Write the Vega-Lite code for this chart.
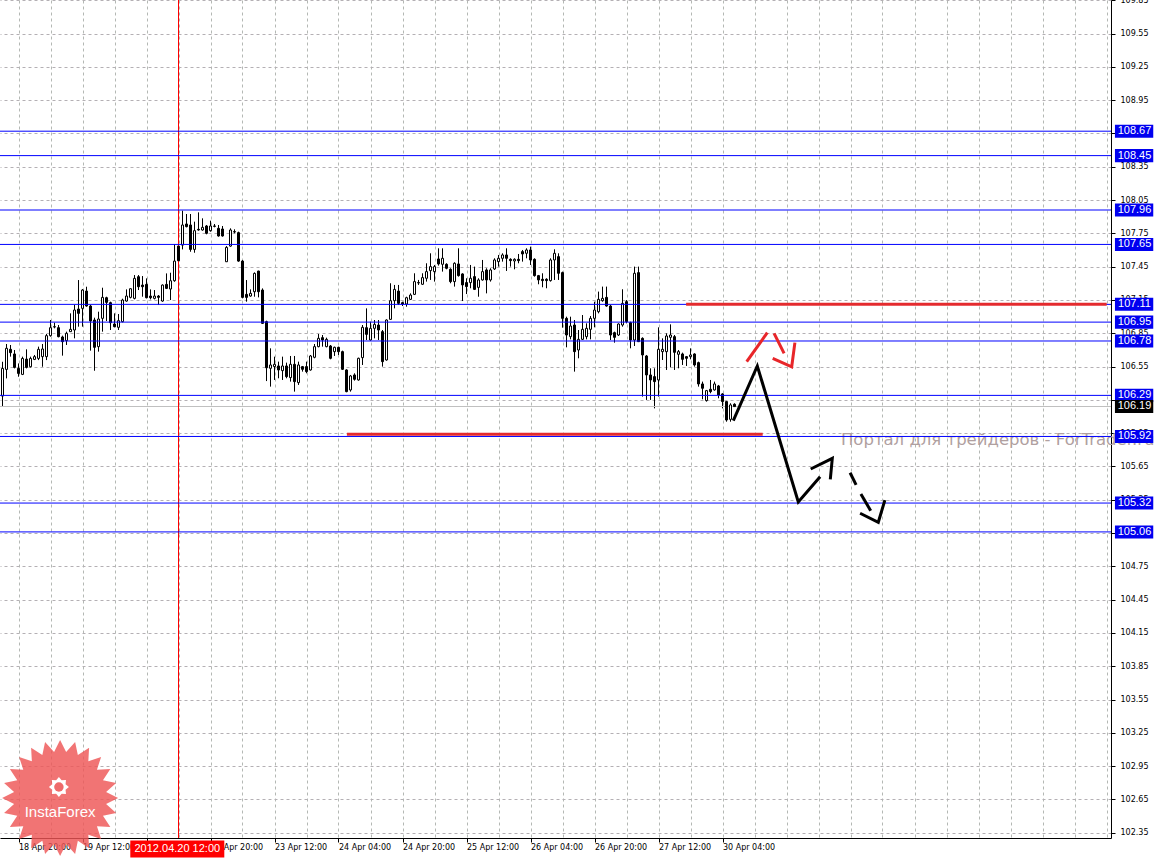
{
  "$schema": "https://vega.github.io/schema/vega-lite/v6.json",
  "width": 1111,
  "height": 838,
  "autosize": {"type": "none"},
  "padding": {"left": 0, "top": 0, "right": 46, "bottom": 22},
  "background": "#ffffff",
  "config": {"view": {"stroke": null}, "scale": {"continuousPadding": 0}},
  "datasets": {
    "candles": [
      {"i":-4,"o":106.284,"h":106.593,"l":106.194,"c":106.533},
      {"i":-3,"o":106.524,"h":106.753,"l":106.443,"c":106.714},
      {"i":-2,"o":106.705,"h":106.744,"l":106.639,"c":106.675},
      {"i":-1,"o":106.663,"h":106.699,"l":106.533,"c":106.542},
      {"i":0,"o":106.533,"h":106.578,"l":106.458,"c":106.488},
      {"i":1,"o":106.479,"h":106.639,"l":106.473,"c":106.623},
      {"i":2,"o":106.617,"h":106.705,"l":106.533,"c":106.542},
      {"i":3,"o":106.548,"h":106.639,"l":106.542,"c":106.623},
      {"i":4,"o":106.614,"h":106.654,"l":106.608,"c":106.639},
      {"i":5,"o":106.623,"h":106.729,"l":106.608,"c":106.705},
      {"i":6,"o":106.639,"h":106.753,"l":106.548,"c":106.708},
      {"i":7,"o":106.639,"h":106.843,"l":106.608,"c":106.828},
      {"i":8,"o":106.828,"h":106.969,"l":106.819,"c":106.900},
      {"i":9,"o":106.906,"h":106.945,"l":106.894,"c":106.909},
      {"i":10,"o":106.900,"h":106.924,"l":106.813,"c":106.819},
      {"i":11,"o":106.816,"h":106.828,"l":106.648,"c":106.774},
      {"i":12,"o":106.783,"h":106.864,"l":106.744,"c":106.849},
      {"i":13,"o":106.864,"h":107.029,"l":106.864,"c":106.885},
      {"i":14,"o":106.879,"h":107.104,"l":106.804,"c":107.059},
      {"i":15,"o":107.068,"h":107.329,"l":106.909,"c":107.029},
      {"i":16,"o":107.074,"h":107.248,"l":106.909,"c":107.239},
      {"i":17,"o":107.230,"h":107.269,"l":107.089,"c":107.095},
      {"i":18,"o":107.095,"h":107.104,"l":106.693,"c":106.960},
      {"i":19,"o":106.969,"h":106.990,"l":106.512,"c":106.723},
      {"i":20,"o":106.729,"h":107.044,"l":106.684,"c":106.978},
      {"i":21,"o":106.984,"h":107.260,"l":106.864,"c":107.173},
      {"i":22,"o":107.170,"h":107.179,"l":106.960,"c":107.128},
      {"i":23,"o":107.125,"h":107.134,"l":106.879,"c":106.945},
      {"i":24,"o":106.933,"h":107.029,"l":106.903,"c":106.909},
      {"i":25,"o":106.903,"h":107.023,"l":106.879,"c":106.963},
      {"i":26,"o":106.954,"h":107.161,"l":106.948,"c":107.149},
      {"i":27,"o":107.140,"h":107.245,"l":107.134,"c":107.185},
      {"i":28,"o":107.173,"h":107.254,"l":107.164,"c":107.251},
      {"i":29,"o":107.164,"h":107.374,"l":107.155,"c":107.344},
      {"i":30,"o":107.359,"h":107.374,"l":107.239,"c":107.269},
      {"i":31,"o":107.284,"h":107.365,"l":107.179,"c":107.269},
      {"i":32,"o":107.290,"h":107.344,"l":107.164,"c":107.170},
      {"i":33,"o":107.185,"h":107.245,"l":107.155,"c":107.170},
      {"i":34,"o":107.164,"h":107.239,"l":107.155,"c":107.185},
      {"i":35,"o":107.185,"h":107.194,"l":107.104,"c":107.173},
      {"i":36,"o":107.140,"h":107.290,"l":107.134,"c":107.284},
      {"i":37,"o":107.290,"h":107.389,"l":107.248,"c":107.254},
      {"i":38,"o":107.248,"h":107.395,"l":107.149,"c":107.323},
      {"i":39,"o":107.323,"h":107.651,"l":107.314,"c":107.500},
      {"i":40,"o":107.635,"h":107.644,"l":107.494,"c":107.503},
      {"i":41,"o":107.644,"h":107.954,"l":107.605,"c":107.825},
      {"i":42,"o":107.834,"h":107.924,"l":107.804,"c":107.810},
      {"i":43,"o":107.825,"h":107.924,"l":107.584,"c":107.605},
      {"i":44,"o":107.605,"h":107.855,"l":107.575,"c":107.774},
      {"i":45,"o":107.786,"h":107.939,"l":107.774,"c":107.780},
      {"i":46,"o":107.780,"h":107.885,"l":107.774,"c":107.804},
      {"i":47,"o":107.816,"h":107.825,"l":107.741,"c":107.750},
      {"i":48,"o":107.774,"h":107.864,"l":107.765,"c":107.816},
      {"i":49,"o":107.816,"h":107.834,"l":107.804,"c":107.813},
      {"i":50,"o":107.795,"h":107.825,"l":107.720,"c":107.726},
      {"i":51,"o":107.789,"h":107.816,"l":107.720,"c":107.726},
      {"i":52,"o":107.494,"h":107.635,"l":107.494,"c":107.623},
      {"i":53,"o":107.635,"h":107.795,"l":107.629,"c":107.780},
      {"i":54,"o":107.765,"h":107.786,"l":107.750,"c":107.762},
      {"i":55,"o":107.756,"h":107.765,"l":107.494,"c":107.500},
      {"i":56,"o":107.500,"h":107.509,"l":107.164,"c":107.173},
      {"i":57,"o":107.200,"h":107.329,"l":107.134,"c":107.173},
      {"i":58,"o":107.185,"h":107.245,"l":107.179,"c":107.209},
      {"i":59,"o":107.224,"h":107.398,"l":107.179,"c":107.389},
      {"i":60,"o":107.410,"h":107.413,"l":107.173,"c":107.224},
      {"i":61,"o":107.239,"h":107.254,"l":106.933,"c":106.939},
      {"i":62,"o":106.954,"h":106.963,"l":106.419,"c":106.539},
      {"i":63,"o":106.534,"h":106.714,"l":106.369,"c":106.564},
      {"i":64,"o":106.549,"h":106.639,"l":106.429,"c":106.570},
      {"i":65,"o":106.555,"h":106.594,"l":106.444,"c":106.519},
      {"i":66,"o":106.513,"h":106.639,"l":106.429,"c":106.555},
      {"i":67,"o":106.555,"h":106.585,"l":106.444,"c":106.459},
      {"i":68,"o":106.450,"h":106.645,"l":106.414,"c":106.570},
      {"i":69,"o":106.570,"h":106.645,"l":106.324,"c":106.414},
      {"i":70,"o":106.405,"h":106.594,"l":106.384,"c":106.564},
      {"i":71,"o":106.549,"h":106.555,"l":106.504,"c":106.525},
      {"i":72,"o":106.549,"h":106.594,"l":106.489,"c":106.504},
      {"i":73,"o":106.519,"h":106.654,"l":106.513,"c":106.645},
      {"i":74,"o":106.633,"h":106.753,"l":106.624,"c":106.729},
      {"i":75,"o":106.729,"h":106.843,"l":106.723,"c":106.804},
      {"i":76,"o":106.810,"h":106.834,"l":106.729,"c":106.789},
      {"i":77,"o":106.729,"h":106.810,"l":106.723,"c":106.795},
      {"i":78,"o":106.735,"h":106.744,"l":106.615,"c":106.624},
      {"i":79,"o":106.684,"h":106.729,"l":106.645,"c":106.723},
      {"i":80,"o":106.723,"h":106.729,"l":106.654,"c":106.684},
      {"i":81,"o":106.684,"h":106.693,"l":106.519,"c":106.525},
      {"i":82,"o":106.519,"h":106.525,"l":106.318,"c":106.324},
      {"i":83,"o":106.339,"h":106.474,"l":106.324,"c":106.465},
      {"i":84,"o":106.474,"h":106.489,"l":106.423,"c":106.435},
      {"i":85,"o":106.429,"h":106.630,"l":106.423,"c":106.624},
      {"i":86,"o":106.630,"h":106.924,"l":106.564,"c":106.903},
      {"i":87,"o":106.900,"h":107.074,"l":106.789,"c":106.840},
      {"i":88,"o":106.789,"h":106.954,"l":106.783,"c":106.894},
      {"i":89,"o":106.894,"h":106.969,"l":106.804,"c":106.930},
      {"i":90,"o":106.924,"h":106.969,"l":106.789,"c":106.879},
      {"i":91,"o":106.864,"h":106.879,"l":106.549,"c":106.594},
      {"i":92,"o":106.609,"h":106.975,"l":106.603,"c":106.969},
      {"i":93,"o":106.975,"h":107.300,"l":106.969,"c":107.143},
      {"i":94,"o":107.143,"h":107.285,"l":107.074,"c":107.245},
      {"i":95,"o":107.230,"h":107.285,"l":107.104,"c":107.119},
      {"i":96,"o":107.125,"h":107.134,"l":107.095,"c":107.113},
      {"i":97,"o":107.113,"h":107.179,"l":107.089,"c":107.170},
      {"i":98,"o":107.155,"h":107.209,"l":107.149,"c":107.194},
      {"i":99,"o":107.200,"h":107.390,"l":107.194,"c":107.315},
      {"i":100,"o":107.306,"h":107.330,"l":107.285,"c":107.303},
      {"i":101,"o":107.291,"h":107.390,"l":107.285,"c":107.351},
      {"i":102,"o":107.345,"h":107.480,"l":107.315,"c":107.405},
      {"i":103,"o":107.414,"h":107.570,"l":107.330,"c":107.450},
      {"i":104,"o":107.405,"h":107.465,"l":107.315,"c":107.450},
      {"i":105,"o":107.519,"h":107.615,"l":107.459,"c":107.474},
      {"i":106,"o":107.471,"h":107.615,"l":107.405,"c":107.525},
      {"i":107,"o":107.471,"h":107.480,"l":107.426,"c":107.435},
      {"i":108,"o":107.426,"h":107.435,"l":107.300,"c":107.315},
      {"i":109,"o":107.315,"h":107.489,"l":107.270,"c":107.480},
      {"i":110,"o":107.474,"h":107.615,"l":107.360,"c":107.369},
      {"i":111,"o":107.384,"h":107.390,"l":107.140,"c":107.285},
      {"i":112,"o":107.306,"h":107.345,"l":107.203,"c":107.270},
      {"i":113,"o":107.306,"h":107.465,"l":107.255,"c":107.345},
      {"i":114,"o":107.360,"h":107.450,"l":107.239,"c":107.245},
      {"i":115,"o":107.263,"h":107.345,"l":107.179,"c":107.330},
      {"i":116,"o":107.330,"h":107.510,"l":107.324,"c":107.405},
      {"i":117,"o":107.420,"h":107.435,"l":107.209,"c":107.330},
      {"i":118,"o":107.330,"h":107.435,"l":107.315,"c":107.420},
      {"i":119,"o":107.429,"h":107.525,"l":107.420,"c":107.510},
      {"i":120,"o":107.495,"h":107.555,"l":107.450,"c":107.525},
      {"i":121,"o":107.525,"h":107.570,"l":107.495,"c":107.555},
      {"i":122,"o":107.555,"h":107.615,"l":107.411,"c":107.525},
      {"i":123,"o":107.516,"h":107.525,"l":107.450,"c":107.504},
      {"i":124,"o":107.501,"h":107.525,"l":107.426,"c":107.516},
      {"i":125,"o":107.516,"h":107.564,"l":107.480,"c":107.504},
      {"i":126,"o":107.585,"h":107.600,"l":107.495,"c":107.564},
      {"i":127,"o":107.570,"h":107.615,"l":107.525,"c":107.600},
      {"i":128,"o":107.600,"h":107.630,"l":107.465,"c":107.510},
      {"i":129,"o":107.516,"h":107.525,"l":107.360,"c":107.369},
      {"i":130,"o":107.369,"h":107.375,"l":107.291,"c":107.330},
      {"i":131,"o":107.336,"h":107.390,"l":107.264,"c":107.324},
      {"i":132,"o":107.336,"h":107.345,"l":107.255,"c":107.324},
      {"i":133,"o":107.324,"h":107.525,"l":107.315,"c":107.510},
      {"i":134,"o":107.510,"h":107.606,"l":107.330,"c":107.570},
      {"i":135,"o":107.540,"h":107.570,"l":107.330,"c":107.390},
      {"i":136,"o":107.396,"h":107.405,"l":106.900,"c":106.984},
      {"i":137,"o":106.984,"h":106.999,"l":106.723,"c":106.834},
      {"i":138,"o":106.819,"h":106.999,"l":106.795,"c":106.915},
      {"i":139,"o":106.924,"h":106.969,"l":106.504,"c":106.684},
      {"i":140,"o":106.699,"h":106.879,"l":106.624,"c":106.795},
      {"i":141,"o":106.795,"h":107.014,"l":106.789,"c":106.885},
      {"i":142,"o":106.819,"h":106.939,"l":106.795,"c":106.894},
      {"i":143,"o":106.885,"h":107.005,"l":106.795,"c":106.984},
      {"i":144,"o":106.984,"h":107.134,"l":106.903,"c":107.059},
      {"i":145,"o":107.044,"h":107.225,"l":107.029,"c":107.155},
      {"i":146,"o":107.143,"h":107.270,"l":107.134,"c":107.164},
      {"i":147,"o":107.173,"h":107.270,"l":107.089,"c":107.095},
      {"i":148,"o":107.095,"h":107.104,"l":106.789,"c":106.834},
      {"i":149,"o":106.855,"h":106.864,"l":106.765,"c":106.813},
      {"i":150,"o":106.834,"h":106.939,"l":106.825,"c":106.933},
      {"i":151,"o":106.924,"h":107.246,"l":106.909,"c":107.119},
      {"i":152,"o":107.134,"h":107.149,"l":106.939,"c":106.954},
      {"i":153,"o":106.945,"h":106.954,"l":106.714,"c":106.789},
      {"i":154,"o":106.789,"h":107.450,"l":106.735,"c":107.390},
      {"i":155,"o":107.396,"h":107.450,"l":106.774,"c":106.774},
      {"i":156,"o":106.804,"h":106.813,"l":106.279,"c":106.654},
      {"i":157,"o":106.645,"h":106.654,"l":106.249,"c":106.474},
      {"i":158,"o":106.474,"h":106.534,"l":106.249,"c":106.429},
      {"i":159,"o":106.459,"h":106.534,"l":106.173,"c":106.414},
      {"i":160,"o":106.429,"h":106.903,"l":106.279,"c":106.705},
      {"i":161,"o":106.684,"h":106.804,"l":106.609,"c":106.705},
      {"i":162,"o":106.684,"h":106.849,"l":106.519,"c":106.825},
      {"i":163,"o":106.813,"h":106.930,"l":106.543,"c":106.834},
      {"i":164,"o":106.819,"h":106.834,"l":106.519,"c":106.678},
      {"i":165,"o":106.660,"h":106.699,"l":106.534,"c":106.684},
      {"i":166,"o":106.663,"h":106.675,"l":106.564,"c":106.615},
      {"i":167,"o":106.639,"h":106.645,"l":106.555,"c":106.624},
      {"i":168,"o":106.639,"h":106.714,"l":106.615,"c":106.654},
      {"i":169,"o":106.663,"h":106.669,"l":106.549,"c":106.564},
      {"i":170,"o":106.585,"h":106.594,"l":106.369,"c":106.393},
      {"i":171,"o":106.393,"h":106.414,"l":106.255,"c":106.354},
      {"i":172,"o":106.243,"h":106.339,"l":106.234,"c":106.333},
      {"i":173,"o":106.345,"h":106.429,"l":106.309,"c":106.324},
      {"i":174,"o":106.339,"h":106.414,"l":106.333,"c":106.393},
      {"i":175,"o":106.375,"h":106.384,"l":106.264,"c":106.294},
      {"i":176,"o":106.303,"h":106.309,"l":106.173,"c":106.234},
      {"i":177,"o":106.234,"h":106.240,"l":106.053,"c":106.068},
      {"i":178,"o":106.074,"h":106.219,"l":106.053,"c":106.204},
      {"i":179,"o":106.210,"h":106.219,"l":106.189,"c":106.189}
    ],
    "levels": [
      {"v":108.67},{"v":108.45},{"v":107.96},{"v":107.65},{"v":107.11},{"v":106.95},
      {"v":106.78},{"v":106.29},{"v":105.92},{"v":105.32},{"v":105.06}
    ],
    "bid": [{"v":106.19}],
    "zones": [
      {"a":82.1,"b":186.05,"v":105.94},
      {"a":166.9,"b":272.05,"v":107.11}
    ],
    "draw": [
      {"kind":"main","seg":"m1","ord":1,"i":178.7,"p":106.062},
      {"kind":"main","seg":"m1","ord":2,"i":184.7,"p":106.555},
      {"kind":"main","seg":"m1","ord":3,"i":194.95,"p":105.330},
      {"kind":"main","seg":"m1","ord":4,"i":200.4,"p":105.557},
      {"kind":"main","seg":"m2","ord":1,"i":198.05,"p":105.627},
      {"kind":"main","seg":"m2","ord":2,"i":203.45,"p":105.723},
      {"kind":"main","seg":"m2","ord":3,"i":202.95,"p":105.534},
      {"kind":"main","seg":"m3","ord":1,"i":207.9,"p":105.593},
      {"kind":"main","seg":"m3","ord":2,"i":209.4,"p":105.483},
      {"kind":"main","seg":"m4","ord":1,"i":210.6,"p":105.402},
      {"kind":"main","seg":"m4","ord":2,"i":213.05,"p":105.251},
      {"kind":"main","seg":"m5","ord":1,"i":210.4,"p":105.228},
      {"kind":"main","seg":"m5","ord":2,"i":214.95,"p":105.147},
      {"kind":"main","seg":"m5","ord":3,"i":216.6,"p":105.347},
      {"kind":"alt","seg":"r1","ord":1,"i":182.05,"p":106.594},
      {"kind":"alt","seg":"r1","ord":2,"i":187.2,"p":106.855},
      {"kind":"alt","seg":"r2","ord":1,"i":188.9,"p":106.849},
      {"kind":"alt","seg":"r2","ord":2,"i":191.4,"p":106.669},
      {"kind":"alt","seg":"r3","ord":1,"i":188.55,"p":106.624},
      {"kind":"alt","seg":"r3","ord":2,"i":193.3,"p":106.548},
      {"kind":"alt","seg":"r3","ord":3,"i":194.1,"p":106.765}
    ]
  },
  "layer": [
    {
      "data": {"name": "candles"},
      "mark": {"type": "rule", "color": "#000000", "strokeWidth": 1},
      "encoding": {
        "x": {
          "field": "i", "type": "quantitative",
          "scale": {"domain": [-4.625, 273.125], "nice": false, "zero": false, "padding": 0},
          "axis": {
            "title": null,
            "values": [0,8,16,24,32,40,48,56,64,72,80,88,96,104,112,120,128,136,144,152,160,168,176,184,192,200,208,216,224,232,240,248,256,264,272],
            "tickCount": 200,
            "labelExpr": "datum.value==0?'18 Apr 20:00':datum.value==16?'19 Apr 12:00':datum.value==32?'20 Apr 04:00':datum.value==48?'20 Apr 20:00':datum.value==64?'23 Apr 12:00':datum.value==80?'24 Apr 04:00':datum.value==96?'24 Apr 20:00':datum.value==112?'25 Apr 12:00':datum.value==128?'26 Apr 04:00':datum.value==144?'26 Apr 20:00':datum.value==160?'27 Apr 12:00':datum.value==176?'30 Apr 04:00':''",
            "grid": true, "gridColor": "#b4b8b4", "gridDash": [3, 3], "gridWidth": 1,
            "domain": true, "domainColor": "#000000", "domainWidth": 1,
            "ticks": true, "tickColor": "#000000", "tickSize": 4,
            "tickOpacity": {"condition": {"test": "datum.value % 16 === 0 && datum.value <= 176", "value": 1}, "value": 0},
            "labelAlign": "left", "labelBaseline": "top", "labelPadding": 1, "labelDx": 1,
            "labelFont": "DejaVu Sans", "labelFontSize": 8, "labelColor": "#000000",
            "labelOverlap": false, "labelFlush": false, "labelBound": false,
            "orient": "bottom"
          }
        },
        "y": {
          "field": "l", "type": "quantitative",
          "scale": {"domain": [102.3025, 109.852], "nice": false, "zero": false, "padding": 0},
          "axis": {
            "orient": "right", "title": null,
            "values": [102.35,102.65,102.95,103.25,103.55,103.85,104.15,104.45,104.75,105.05,105.35,105.65,105.95,106.25,106.55,106.85,107.15,107.45,107.75,108.05,108.35,108.65,108.95,109.25,109.55,109.85],
            "tickCount": 200,
            "format": ".2f",
            "grid": true, "gridColor": "#b4b0b4", "gridDash": [3, 3], "gridWidth": 1,
            "domain": true, "domainColor": "#000000", "domainWidth": 1,
            "ticks": true, "tickColor": "#000000", "tickSize": 4,
            "labelPadding": 5, "labelBaseline": "middle",
            "labelFont": "DejaVu Sans", "labelFontSize": 8, "labelColor": "#000000",
            "labelOverlap": false, "labelFlush": false, "labelBound": false
          }
        },
        "y2": {"field": "h"}
      }
    },
    {
      "data": {"values": [{"label": "Портал для трейдеров - ForTrader.ru"}]},
      "mark": {"type": "text", "align": "left", "baseline": "middle", "font": "DejaVu Sans", "fontSize": 16.5, "color": "#b0a0a0"},
      "encoding": {
        "x": {"datum": 205.6, "type": "quantitative"},
        "y": {"datum": 105.888, "type": "quantitative"},
        "text": {"field": "label"}
      }
    },
    {
      "data": {"name": "bid"},
      "mark": {"type": "rule", "color": "#c0c0c0", "strokeWidth": 1},
      "encoding": {
        "y": {"field": "v", "type": "quantitative"}
      }
    },
    {
      "data": {"values": [{"t": "2012.04.20 12:00"}]},
      "mark": {"type": "rule", "color": "#ff0000", "strokeWidth": 1},
      "encoding": {
        "x": {"datum": 40, "type": "quantitative"}
      }
    },
    {
      "data": {"name": "candles"},
      "mark": {"type": "bar", "size": 2, "stroke": "#000000", "strokeWidth": 1},
      "encoding": {
        "x": {"field": "i", "type": "quantitative"},
        "y": {"field": "o", "type": "quantitative"},
        "y2": {"field": "c"},
        "fill": {"condition": {"test": "datum.c >= datum.o", "value": "#ffffff"}, "value": "#000000"}
      }
    },
    {
      "data": {"name": "levels"},
      "mark": {"type": "rule", "color": "#0000ff", "strokeWidth": 1},
      "encoding": {
        "y": {"field": "v", "type": "quantitative"}
      }
    },
    {
      "data": {"name": "zones"},
      "mark": {"type": "rule", "color": "#e42a2e", "strokeWidth": 3},
      "encoding": {
        "x": {"field": "a", "type": "quantitative"},
        "x2": {"field": "b"},
        "y": {"field": "v", "type": "quantitative"}
      }
    },
    {
      "data": {"name": "draw"},
      "transform": [{"filter": "datum.kind === 'main'"}],
      "mark": {"type": "line", "color": "#000000", "strokeWidth": 3, "interpolate": "linear"},
      "encoding": {
        "x": {"field": "i", "type": "quantitative"},
        "y": {"field": "p", "type": "quantitative"},
        "detail": {"field": "seg"},
        "order": {"field": "ord"}
      }
    },
    {
      "data": {"name": "draw"},
      "transform": [{"filter": "datum.kind === 'alt'"}],
      "mark": {"type": "line", "color": "#e8262a", "strokeWidth": 3, "interpolate": "linear"},
      "encoding": {
        "x": {"field": "i", "type": "quantitative"},
        "y": {"field": "p", "type": "quantitative"},
        "detail": {"field": "seg"},
        "order": {"field": "ord"}
      }
    },
    {
      "data": {"name": "levels"},
      "mark": {"type": "point", "shape": "M-1,-0.34H1V0.34H-1Z", "size": 1467, "filled": true, "fill": "#0000f0", "stroke": null, "opacity": 1},
      "encoding": {
        "x": {"datum": 278.9, "type": "quantitative"},
        "y": {"field": "v", "type": "quantitative"}
      }
    },
    {
      "data": {"name": "levels"},
      "mark": {"type": "text", "align": "center", "baseline": "middle", "font": "Liberation Sans", "fontSize": 11, "color": "#ffffff"},
      "encoding": {
        "x": {"datum": 279.0, "type": "quantitative"},
        "y": {"field": "v", "type": "quantitative"},
        "text": {"field": "v", "type": "quantitative", "format": ".2f"}
      }
    },
    {
      "data": {"name": "bid"},
      "mark": {"type": "point", "shape": "M-1,-0.34H1V0.34H-1Z", "size": 1467, "filled": true, "fill": "#000000", "stroke": null, "opacity": 1},
      "encoding": {
        "x": {"datum": 278.9, "type": "quantitative"},
        "y": {"field": "v", "type": "quantitative"}
      }
    },
    {
      "data": {"name": "bid"},
      "mark": {"type": "text", "align": "center", "baseline": "middle", "font": "Liberation Sans", "fontSize": 11, "color": "#ffffff"},
      "encoding": {
        "x": {"datum": 279.0, "type": "quantitative"},
        "y": {"field": "v", "type": "quantitative"},
        "text": {"field": "v", "type": "quantitative", "format": ".2f"}
      }
    },
    {
      "data": {"values": [{"t": "2012.04.20 12:00"}]},
      "mark": {"type": "point", "shape": "M-1,-0.18H1V0.18H-1Z", "size": 8836, "filled": true, "fill": "#ff0000", "stroke": null, "opacity": 1},
      "encoding": {
        "x": {"datum": 39.7, "type": "quantitative"},
        "y": {"datum": 102.203, "type": "quantitative"}
      }
    },
    {
      "data": {"values": [{"t": "2012.04.20 12:00"}]},
      "mark": {"type": "text", "align": "center", "baseline": "middle", "font": "Liberation Sans", "fontSize": 11, "color": "#ffffff"},
      "encoding": {
        "x": {"datum": 39.7, "type": "quantitative"},
        "y": {"datum": 102.203, "type": "quantitative"},
        "text": {"field": "t"}
      }
    },
    {
      "data": {"values": [{"brand": "InstaForex"}]},
      "mark": {"type": "point", "shape": "M1,0L0.793,0.104L0.966,0.259L0.739,0.306L0.866,0.5L0.635,0.487L0.707,0.707L0.487,0.635L0.5,0.866L0.306,0.739L0.259,0.966L0.104,0.793L0,1L-0.104,0.793L-0.259,0.966L-0.306,0.739L-0.5,0.866L-0.487,0.635L-0.707,0.707L-0.635,0.487L-0.866,0.5L-0.739,0.306L-0.966,0.259L-0.793,0.104L-1,0L-0.793,-0.104L-0.966,-0.259L-0.739,-0.306L-0.866,-0.5L-0.635,-0.487L-0.707,-0.707L-0.487,-0.635L-0.5,-0.866L-0.306,-0.739L-0.259,-0.966L-0.104,-0.793L0,-1L0.104,-0.793L0.259,-0.966L0.306,-0.739L0.5,-0.866L0.487,-0.635L0.707,-0.707L0.635,-0.487L0.866,-0.5L0.739,-0.306L0.966,-0.259L0.793,-0.104Z", "size": 13456, "filled": true, "fill": "#ee5656", "stroke": null, "opacity": 0.82},
      "encoding": {
        "x": {"datum": 10.4, "type": "quantitative"},
        "y": {"datum": 102.663, "type": "quantitative"}
      }
    },
    {
      "data": {"values": [{"brand": "InstaForex"}]},
      "mark": {"type": "point", "shape": "M1,0L0.665,0.276L0.707,0.707L0.276,0.665L0,1L-0.276,0.665L-0.707,0.707L-0.665,0.276L-1,0L-0.665,-0.276L-0.707,-0.707L-0.276,-0.665L0,-1L0.276,-0.665L0.707,-0.707L0.665,-0.276Z", "size": 400, "filled": true, "fill": "#ffffff", "stroke": null, "opacity": 1},
      "encoding": {
        "x": {"datum": 10.1, "type": "quantitative"},
        "y": {"datum": 102.762, "type": "quantitative"}
      }
    },
    {
      "data": {"values": [{"brand": "InstaForex"}]},
      "mark": {"type": "point", "shape": "circle", "size": 90, "filled": true, "fill": "#ef6a6a", "stroke": null, "opacity": 1},
      "encoding": {
        "x": {"datum": 10.1, "type": "quantitative"},
        "y": {"datum": 102.762, "type": "quantitative"}
      }
    },
    {
      "data": {"values": [{"brand": "InstaForex"}]},
      "mark": {"type": "text", "align": "center", "baseline": "middle", "font": "Liberation Sans", "fontSize": 15, "color": "#ffffff"},
      "encoding": {
        "x": {"datum": 10.4, "type": "quantitative"},
        "y": {"datum": 102.537, "type": "quantitative"},
        "text": {"field": "brand"}
      }
    }
  ]
}
